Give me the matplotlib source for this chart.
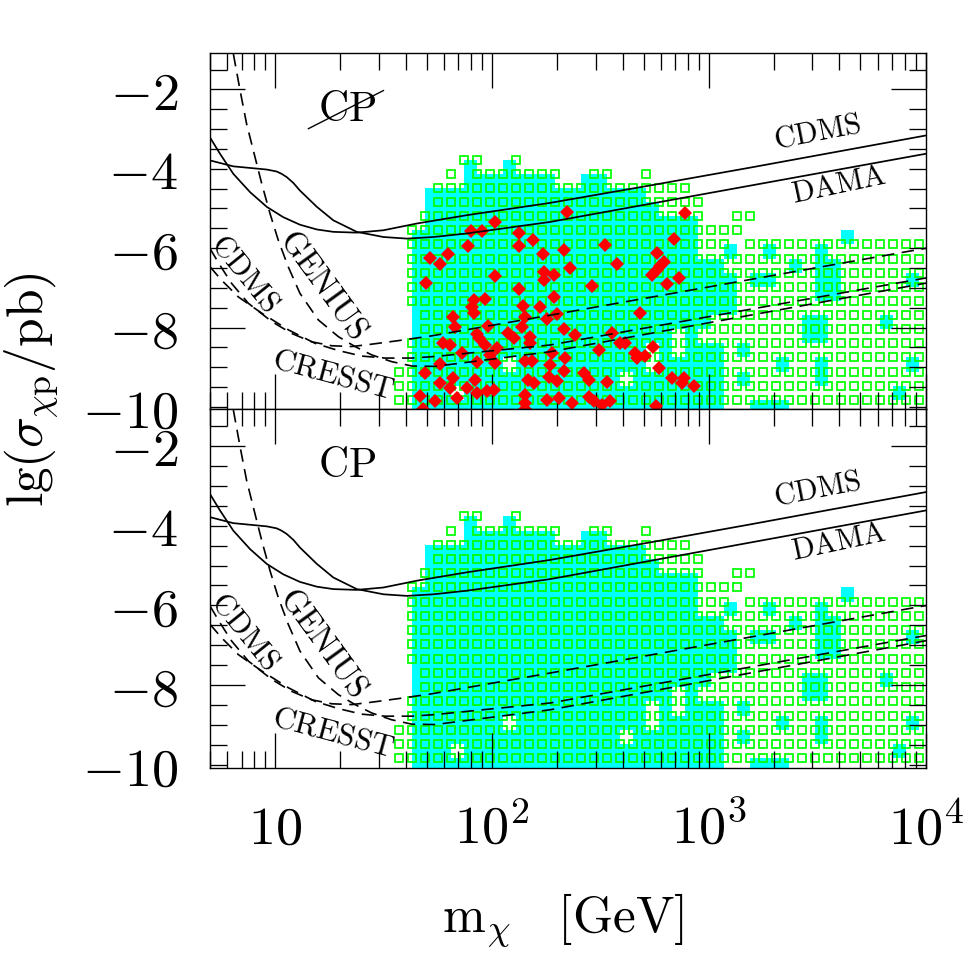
#!/usr/bin/env python3

import numpy as np
import matplotlib
matplotlib.use('Agg')
import matplotlib.pyplot as plt
from matplotlib.colors import ListedColormap
from matplotlib.ticker import LogLocator, MultipleLocator, NullFormatter

plt.rcParams['mathtext.fontset'] = 'cm'
plt.rcParams['font.family'] = ['DejaVu Serif']

# scan grid: lg(m / GeV) of the columns, lg(sigma / pb) of the rows
lg_m_cols = [1.569, 1.629, 1.689, 1.749, 1.809, 1.869, 1.929, 1.989, 2.049, 2.109,
             2.169, 2.229, 2.289, 2.350, 2.410, 2.470, 2.530, 2.590, 2.650, 2.710,
             2.770, 2.830, 2.890, 2.950, 3.010, 3.070, 3.130, 3.190, 3.250, 3.310,
             3.370, 3.430, 3.490, 3.550, 3.610, 3.670, 3.730, 3.790, 3.850, 3.910,
             3.970]
lg_sig_rows = [-9.822, -9.466, -9.110, -8.754, -8.398, -8.042, -7.686, -7.330, -6.974,
               -6.618, -6.262, -5.906, -5.550, -5.194, -4.838, -4.482, -4.126, -3.770]
# next grid points (right of last column, below first row) for the cyan boxes
lg_m_next = 4.030
lg_sig_below = -10.178

# green open squares, one string per row (bottom row first), '#' = point
green_rows = [
    "########## ########## ########## ########## #",
    "########## ########## ########## ########## #",
    "########## ########## ########## ########## #",
    ".######### ########## ########## ########## #",
    ".######### ########## ########## ########## #",
    "..######## ########## ########## ########## #",
    "..######## ########## ########## ########## #",
    ".######### ########## ########## ########## #",
    ".######### ########## ########## ########## #",
    ".######### ########## ########## ########## #",
    ".######### ########## ########## ########## #",
    ".######### ########## ######.### ########## #",
    ".######### ########## #######... .......... .",
    "..######## ########## ####..##.. .......... .",
    "...####### ########## ####...... .......... .",
    "...####### ########## ###....... .......... .",
    "....#.#### ###..##..# .......... .......... .",
    ".....##..# .......... .......... .......... .",
]

# cyan boxes, lower left corner on a grid point (first string is the row below the grid)
cyan_rows = [
    ".######### ########## #####..### .......... .",
    ".###.##### ########## #####..... ........#. .",
    ".######### #######.## #####.#... ..#....... .",
    ".#######.# #########. #####....# ..#......# .",
    ".######### #########. #.###.#... .......... .",
    ".######### ########## #.#....... .##....... .",
    ".######### ########## ####...... .##....#.. .",
    ".######### ########## ######.... .......... .",
    ".######### ########## ######.... ..##...... .",
    ".######### ########## ######.##. ..##.....# .",
    ".######### ########## #####..... #.##...... .",
    ".######### ########## ###..#..#. ..#....... .",
    ".######### ########## ###....... ....#..... .",
    "..######## ########## ###....... .......... .",
    "..######## ########## .......... .......... .",
    "..######## #########. .......... .......... .",
    ".....##### ##..##.... .......... .......... .",
    ".....#..#. .......... .......... .......... .",
]

# red diamonds (upper panel only)
lg_m_red = [2.012, 1.903, 1.953, 2.122, 2.187, 1.887, 2.122, 1.715, 1.799, 1.758,
            2.233, 2.238, 2.238, 2.012, 1.696, 2.122, 1.915, 1.969, 1.907, 1.915,
            2.143, 2.223, 1.822, 1.830, 2.153, 2.138, 2.254, 1.979, 1.930, 1.942,
            1.969, 2.072, 2.099, 2.176, 2.176, 1.776, 1.807, 2.023, 1.992, 1.861,
            1.758, 1.930, 2.015, 2.153, 2.184, 2.269, 2.277, 1.692, 1.822, 1.761,
            1.807, 1.922, 1.884, 2.168, 2.192, 2.261, 1.669, 1.738, 1.838, 1.930,
            1.976, 2.007, 2.153, 2.153, 2.153, 2.254, 1.681, 2.346, 2.892, 2.838,
            2.333, 2.523, 2.358, 2.577, 2.761, 2.792, 2.761, 2.738, 2.284, 2.461,
            2.807, 2.861, 2.284, 2.684, 2.300, 2.330, 2.384, 2.554, 2.592, 2.615,
            2.492, 2.743, 2.338, 2.661, 2.707, 2.669, 2.769, 2.330, 2.422, 2.446,
            2.530, 2.830, 2.884, 2.877, 2.930, 2.300, 2.307, 2.369, 2.446, 2.469,
            2.507, 2.546, 2.758, 2.776]
lg_sig_red = [-5.34, -5.58, -5.58, -5.62, -5.80, -5.95, -5.95, -6.24, -6.16, -6.41,
              -6.16, -6.60, -6.81, -6.71, -6.89, -7.02, -7.31, -7.29, -7.48, -7.64,
              -7.46, -7.49, -7.73, -7.98, -7.73, -7.98, -7.79, -7.96, -8.17, -8.27,
              -8.44, -8.15, -8.27, -8.23, -8.40, -8.38, -8.44, -8.52, -8.69, -8.65,
              -8.92, -8.87, -8.90, -8.84, -8.84, -8.94, -8.65, -9.15, -9.28, -9.40,
              -9.53, -9.32, -9.53, -9.32, -9.40, -9.24, -9.72, -9.86, -9.78, -9.65,
              -9.61, -9.57, -9.70, -9.90, -10.05, -9.82, -10.05, -5.09, -5.12, -5.78,
              -6.04, -5.93, -6.50, -6.39, -6.12, -6.35, -6.56, -6.68, -6.68, -6.95,
              -6.91, -6.75, -7.23, -7.64, -7.67, -8.05, -8.19, -8.15, -8.40, -8.40,
              -8.57, -8.50, -8.76, -8.65, -8.73, -8.77, -9.01, -9.09, -9.15, -9.32,
              -9.38, -9.28, -9.28, -9.40, -9.47, -9.36, -9.78, -9.90, -9.74, -9.86,
              -9.95, -9.86, -9.99, -6.45]

# experimental limits (solid) and projected sensitivities (dashed)
cdms_lg = [0.699, 0.745, 0.807, 0.884, 0.961, 1.037, 1.114, 1.192, 1.268, 1.376,
           1.499, 1.653, 1.884, 2.268, 2.730, 3.192, 4.003]
cdms_sig = [-3.21, -3.62, -4.13, -4.59, -4.96, -5.22, -5.41, -5.53, -5.59, -5.61,
            -5.55, -5.38, -5.17, -4.86, -4.42, -3.97, -3.16]
dama_lg = [0.699, 0.807, 0.884, 0.961, 1.007, 1.030, 1.053, 1.084, 1.114, 1.192,
           1.268, 1.376, 1.499, 1.607, 1.730, 1.884, 2.268, 4.003]
dama_sig = [-3.79, -3.94, -3.98, -4.02, -4.07, -4.13, -4.21, -4.36, -4.55, -4.96,
            -5.30, -5.59, -5.72, -5.76, -5.72, -5.63, -5.34, -3.62]
genius_lg = [0.807, 0.838, 0.868, 0.899, 0.938, 0.976, 1.014, 1.060, 1.114, 1.199,
             1.291, 1.368, 1.445, 1.537, 1.630, 1.737, 2.268, 4.003]
genius_sig = [-1.11, -2.03, -2.87, -3.54, -4.38, -5.13, -5.80, -6.47, -7.14, -7.81,
              -8.23, -8.48, -8.69, -8.86, -8.97, -8.98, -8.61, -6.88]
cdms_proj_lg = [0.699, 0.745, 0.799, 0.876, 0.984, 1.076, 1.168, 1.261, 1.353, 1.445,
                1.569, 1.722, 2.268, 4.003]
cdms_proj_sig = [-6.01, -6.43, -6.89, -7.39, -7.85, -8.15, -8.36, -8.46, -8.48, -8.42,
                 -8.33, -8.21, -7.69, -6.00]
cresst_lg = [0.699, 0.753, 0.830, 0.938, 1.061, 1.184, 1.291, 1.399, 1.507, 1.630,
             1.737, 2.268, 4.003]
cresst_sig = [-6.47, -6.81, -7.23, -7.64, -8.06, -8.40, -8.58, -8.72, -8.77, -8.77,
              -8.73, -8.44, -6.75]

y_tick_vals = [-10, -8, -6, -4, -2]
y_tick_labels = [r'$-10$', r'$-8$', r'$-6$', r'$-4$', r'$-2$']
x_tick_vals = [10, 100, 1000, 10000]
x_tick_labels = [r'$10$', r'$10^2$', r'$10^3$', r'$10^4$']

green_rows = [r.replace(' ', '') for r in green_rows]
cyan_rows = [r.replace(' ', '') for r in cyan_rows]
assert all(len(r) == len(lg_m_cols) for r in green_rows + cyan_rows)

m_cols = 10 ** np.array(lg_m_cols)
gx, gy = [], []
for k, row in enumerate(green_rows):
    for j, c in enumerate(row):
        if c == '#':
            gx.append(m_cols[j])
            gy.append(lg_sig_rows[k])

cyan_x_edges = 10 ** np.array(lg_m_cols + [lg_m_next])
cyan_y_edges = np.array([lg_sig_below] + lg_sig_rows)
cyan_grid = np.array([[1.0 if c == '#' else np.nan for c in row] for row in cyan_rows])
cyan_cmap = ListedColormap(['#00ffff'])


def draw_panel(ax, with_red):
    ax.pcolormesh(cyan_x_edges, cyan_y_edges, cyan_grid, cmap=cyan_cmap,
                  vmin=0, vmax=2, shading='flat', zorder=1)
    ax.plot(gx, gy, ls='none', marker='s', ms=6.1, mfc='none', mec='#00ff00',
            mew=1.25, zorder=1.5)
    if with_red:
        ax.plot(10 ** np.array(lg_m_red), lg_sig_red, ls='none', marker='D',
                ms=7.0, mfc='#ff0000', mec='#ff0000', mew=0, zorder=2)

    dash = (0, (7.5, 4.5))
    ax.plot(10 ** np.array(cdms_lg), cdms_sig, color='black', lw=1.25, zorder=2.2)
    ax.plot(10 ** np.array(dama_lg), dama_sig, color='black', lw=1.25, zorder=2.2)
    ax.plot(10 ** np.array(genius_lg), genius_sig, color='black', lw=1.2, ls=dash, zorder=2.2)
    ax.plot(10 ** np.array(cdms_proj_lg), cdms_proj_sig, color='black', lw=1.2, ls=dash, zorder=2.2)
    ax.plot(10 ** np.array(cresst_lg), cresst_sig, color='black', lw=1.2, ls=dash, zorder=2.2)

    kw = dict(ha='center', va='center', rotation_mode='anchor', zorder=3)
    ax.text(10 ** 3.50, -3.08, r'$\mathrm{CDMS}$', fontsize=21.5, rotation=11, **kw)
    ax.text(10 ** 3.60, -4.42, r'$\mathrm{DAMA}$', fontsize=21.5, rotation=12, **kw)
    ax.text(10 ** 1.222, -6.93, r'$\mathrm{GENIUS}$', fontsize=23.5, rotation=-54, **kw)
    ax.text(10 ** 0.861, -6.64, r'$\mathrm{CDMS}$', fontsize=22, rotation=-51, **kw)
    ax.text(10 ** 1.268, -9.19, r'$\mathrm{CRESST}$', fontsize=22.5, rotation=-15, **kw)
    ax.text(10 ** 1.330, -2.49, r'$\mathrm{CP}$', fontsize=30, **kw)
    if with_red:
        # slash through CP
        ax.plot([10 ** 1.153, 10 ** 1.499], [-2.99, -2.03], color='black', lw=1.0, zorder=3)

    ax.set_xscale('log')
    ax.set_xlim(5, 1e4)
    ax.set_ylim(-10.06, -1.09)
    ax.set_xticks(x_tick_vals, labels=x_tick_labels)
    ax.xaxis.set_minor_locator(LogLocator(base=10, subs=np.arange(2, 10), numticks=20))
    ax.xaxis.set_minor_formatter(NullFormatter())
    ax.set_yticks(y_tick_vals, labels=y_tick_labels)
    ax.yaxis.set_minor_locator(MultipleLocator(0.5))
    ax.tick_params(which='both', direction='in', top=True, right=True, width=0.95,
                   length=12.2, labelsize=39)
    ax.tick_params(axis='x', which='major', length=25, pad=55)
    ax.tick_params(axis='y', which='major', pad=23)
    for sp in ax.spines.values():
        sp.set_linewidth(1.0)
    # long ticks at -2 and -8
    for tick, v in zip(ax.yaxis.get_major_ticks(), y_tick_vals):
        if v in (-2, -8):
            tick.tick1line.set_markersize(25)
            tick.tick2line.set_markersize(25)
    for lab in ax.get_xticklabels():
        lab.set_verticalalignment('baseline')


fig = plt.figure(figsize=(9.77, 9.77), dpi=100)
ax_top = fig.add_axes([0.2149, 0.5811, 0.7326, 0.3644])
ax_bot = fig.add_axes([0.2149, 0.2142, 0.7326, 0.3669])

draw_panel(ax_top, True)
draw_panel(ax_bot, False)
ax_top.tick_params(labelbottom=False)

fig.text(32 / 977, 1 - 390 / 977, r'$\mathrm{lg}(\sigma_{\chi\mathrm{p}}/\mathrm{pb})$',
         fontsize=37, rotation=90, ha='center', va='center')
fig.text(563 / 977, 1 - 932 / 977, r'$\mathrm{m}_\chi\quad[\mathrm{GeV}]$',
         fontsize=37, ha='center', va='baseline')

fig.savefig('out.png', dpi=100)
